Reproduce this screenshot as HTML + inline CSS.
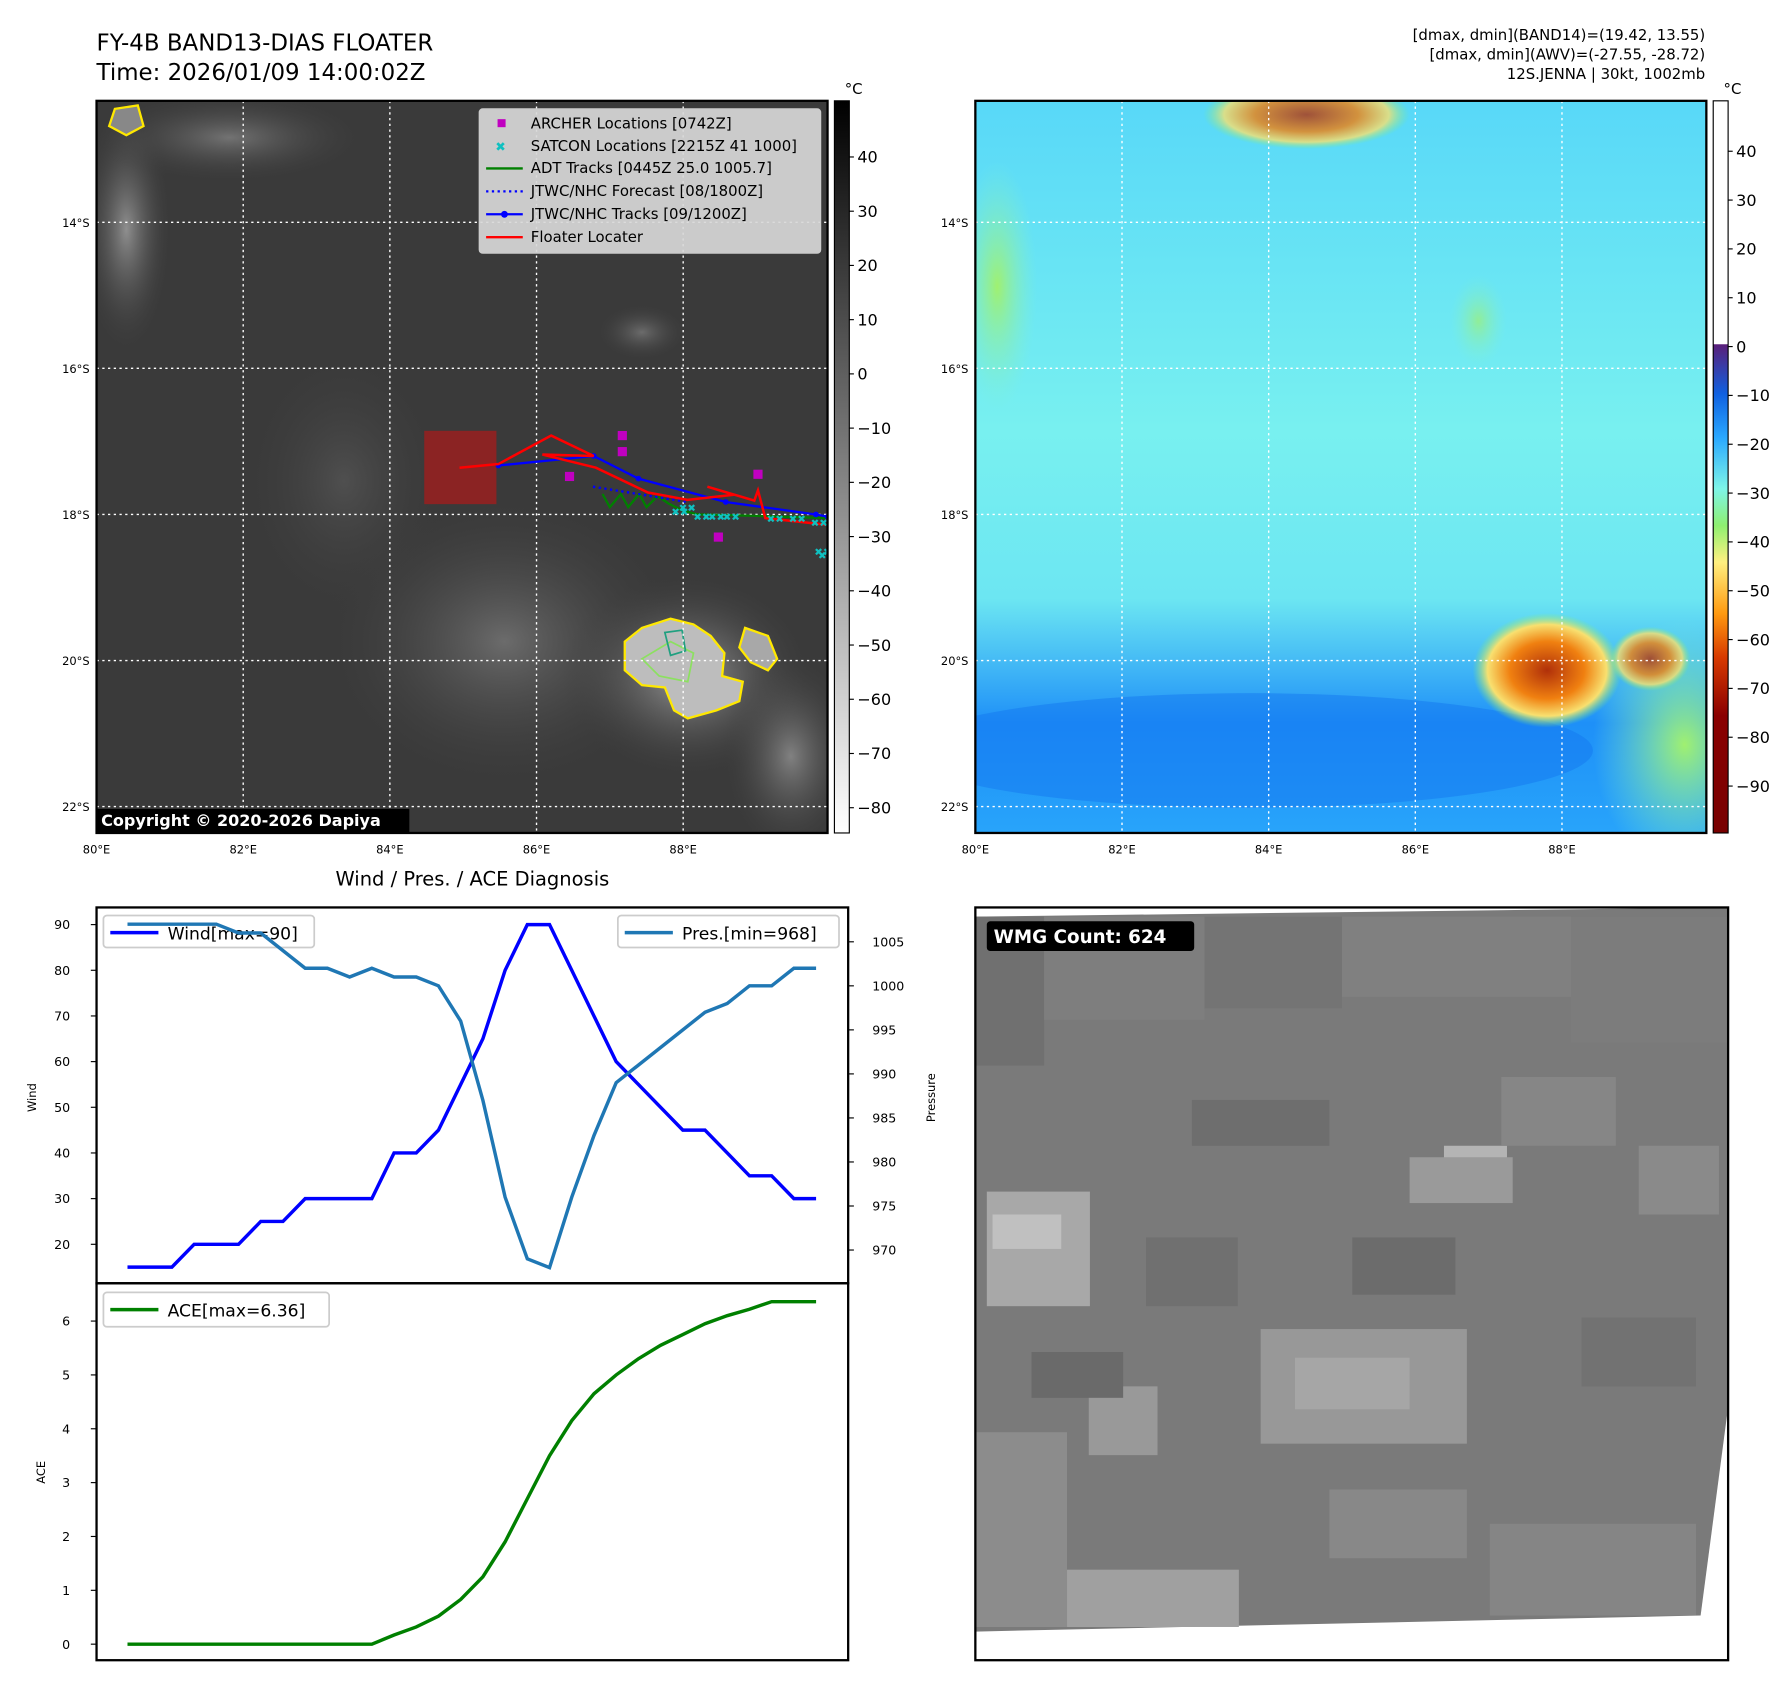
<!DOCTYPE html>
<html><head><meta charset="utf-8">
<style>
html,body{margin:0;padding:0;background:#fff;}
svg{display:block;font-family:"DejaVu Sans","Liberation Sans",sans-serif;}
</style></head>
<body>
<svg id="root" width="1788" height="1690" viewBox="0 0 1560 1475" xmlns="http://www.w3.org/2000/svg">
<defs>
<linearGradient id="cb1" x1="0" y1="0" x2="0" y2="1">
<stop offset="0" stop-color="#000"/><stop offset="1" stop-color="#fff"/></linearGradient>
<linearGradient id="cb2" x1="0" y1="0" x2="0" y2="1">
<stop offset="0" stop-color="#fff"/><stop offset="0.332" stop-color="#fff"/>
<stop offset="0.333" stop-color="#5a1f7a"/><stop offset="0.40" stop-color="#1060e0"/>
<stop offset="0.46" stop-color="#2aa8ff"/><stop offset="0.53" stop-color="#7ef5e8"/>
<stop offset="0.58" stop-color="#8ef070"/><stop offset="0.63" stop-color="#fff080"/>
<stop offset="0.70" stop-color="#ff9a10"/><stop offset="0.76" stop-color="#d83a00"/>
<stop offset="0.84" stop-color="#8a0000"/><stop offset="1" stop-color="#780000"/></linearGradient>
<linearGradient id="bgR" x1="0" y1="0" x2="0" y2="1">
<stop offset="0" stop-color="#58d8f8"/><stop offset="0.45" stop-color="#78f0f0"/>
<stop offset="0.68" stop-color="#6ce6f2"/><stop offset="0.85" stop-color="#1e90f8"/><stop offset="1" stop-color="#28a4fa"/></linearGradient>
<radialGradient id="cloudL"><stop offset="0" stop-color="#c8c8c8"/><stop offset="1" stop-color="#3a3a3a" stop-opacity="0"/></radialGradient>
<radialGradient id="storm"><stop offset="0" stop-color="#b0300a"/><stop offset="0.5" stop-color="#f08010"/><stop offset="0.8" stop-color="#f8e070"/><stop offset="1" stop-color="#80f070" stop-opacity="0"/></radialGradient>
<radialGradient id="grn"><stop offset="0" stop-color="#a0f070"/><stop offset="1" stop-color="#80f0d0" stop-opacity="0"/></radialGradient>
<clipPath id="clipL"><rect x="84" y="88" width="638" height="639"/></clipPath>
<clipPath id="clipR"><rect x="851" y="88" width="638" height="639"/></clipPath>
</defs>

<text x="84" y="44" font-size="20">FY-4B BAND13-DIAS FLOATER</text>
<text x="84" y="70" font-size="20">Time: 2026/01/09 14:00:02Z</text>
<g font-size="13" text-anchor="end">
<text x="1488" y="35">[dmax, dmin](BAND14)=(19.42, 13.55)</text>
<text x="1488" y="52">[dmax, dmin](AWV)=(-27.55, -28.72)</text>
<text x="1488" y="69">12S.JENNA | 30kt, 1002mb</text>
</g>

<!-- LEFT MAP -->
<g clip-path="url(#clipL)">
<rect x="84" y="88" width="638" height="639" fill="#3a3a3a"/>
<ellipse cx="110" cy="200" rx="40" ry="110" fill="url(#cloudL)" opacity="0.6"/>
<ellipse cx="200" cy="120" rx="120" ry="40" fill="url(#cloudL)" opacity="0.4"/>
<ellipse cx="440" cy="560" rx="160" ry="130" fill="url(#cloudL)" opacity="0.35"/>
<ellipse cx="600" cy="590" rx="110" ry="90" fill="url(#cloudL)" opacity="0.7"/>
<ellipse cx="690" cy="660" rx="60" ry="90" fill="url(#cloudL)" opacity="0.5"/>
<ellipse cx="560" cy="290" rx="40" ry="25" fill="url(#cloudL)" opacity="0.35"/>
<ellipse cx="300" cy="420" rx="90" ry="120" fill="url(#cloudL)" opacity="0.15"/>
<path d="M545,560 L560,548 L585,540 L605,545 L620,555 L632,570 L630,590 L648,595 L645,612 L625,620 L600,627 L588,620 L580,600 L560,598 L545,585 Z" fill="#bdbdbd" stroke="#ffe800" stroke-width="2"/>
<path d="M650,548 L670,555 L678,575 L670,585 L655,578 L645,565 Z" fill="#a8a8a8" stroke="#ffe800" stroke-width="2"/>
<path d="M560,575 L585,560 L605,570 L600,595 L575,590 Z" fill="none" stroke="#8ce060" stroke-width="1.5"/>
<path d="M580,552 L595,550 L598,568 L585,572 Z" fill="none" stroke="#20a080" stroke-width="1.5"/>
<path d="M100,95 L120,92 L125,110 L110,118 L95,110 Z" fill="#888" stroke="#ffe800" stroke-width="2"/>
<g id="grid-l" stroke="#fff" stroke-width="1.2" stroke-dasharray="2,3"></g>
<rect x="370" y="376" width="63" height="64" fill="#8b2323"/>
<g id="tracks"></g>
</g>
<rect x="84" y="88" width="638" height="639" fill="none" stroke="#000" stroke-width="2"/>
<rect x="84" y="706" width="273" height="21" fill="#000"/>
<text x="88" y="721" font-size="14" font-weight="bold" fill="#fff">Copyright © 2020-2026 Dapiya</text>
<g id="axl" font-size="10"></g>

<!-- legend -->
<g font-size="13">
<rect x="418" y="95" width="298" height="126" rx="3" fill="#d8d8d8" fill-opacity="0.92" stroke="#ccc"/>
<rect x="434" y="104" width="7" height="7" fill="#c000c0"/><text x="463" y="112">ARCHER Locations [0742Z]</text>
<text x="432" y="132" fill="#10c0c0" font-weight="bold" font-size="11">✖</text><text x="463" y="132">SATCON Locations [2215Z 41 1000]</text>
<line x1="424" y1="147" x2="456" y2="147" stroke="#008000" stroke-width="2"/><text x="463" y="151">ADT Tracks [0445Z 25.0 1005.7]</text>
<line x1="424" y1="167" x2="456" y2="167" stroke="#0000ff" stroke-width="2" stroke-dasharray="2,3"/><text x="463" y="171">JTWC/NHC Forecast [08/1800Z]</text>
<line x1="424" y1="187" x2="456" y2="187" stroke="#0000ff" stroke-width="2"/><circle cx="440" cy="187" r="3" fill="#0000ff"/><text x="463" y="191">JTWC/NHC Tracks [09/1200Z]</text>
<line x1="424" y1="207" x2="456" y2="207" stroke="#ff0000" stroke-width="2"/><text x="463" y="211">Floater Locater</text>
</g>

<!-- colorbar 1 -->
<rect x="728" y="88" width="13" height="639" fill="url(#cb1)" stroke="#000" stroke-width="1"/>
<text x="737" y="82" font-size="13">°C</text>
<g id="cb1t" font-size="14"></g>

<!-- RIGHT MAP -->
<g clip-path="url(#clipR)">
<rect x="851" y="88" width="638" height="639" fill="url(#bgR)"/>
<ellipse cx="1090" cy="655" rx="300" ry="50" fill="#1478f0" opacity="0.5"/>
<ellipse cx="870" cy="250" rx="35" ry="110" fill="url(#grn)"/>
<ellipse cx="1140" cy="100" rx="90" ry="30" fill="url(#storm)" opacity="0.8"/>
<ellipse cx="1470" cy="650" rx="80" ry="110" fill="url(#grn)"/>
<ellipse cx="1290" cy="280" rx="25" ry="40" fill="url(#grn)" opacity="0.7"/>
<ellipse cx="1350" cy="585" rx="65" ry="50" fill="url(#storm)"/>
<ellipse cx="1440" cy="575" rx="35" ry="28" fill="url(#storm)" opacity="0.8"/>
<g id="grid-r" stroke="#fff" stroke-width="1.2" stroke-dasharray="2,3"></g>
</g>
<rect x="851" y="88" width="638" height="639" fill="none" stroke="#000" stroke-width="2"/>
<g id="axr" font-size="10"></g>
<rect x="1495" y="88" width="13" height="639" fill="url(#cb2)" stroke="#000" stroke-width="1"/>
<text x="1504" y="82" font-size="13">°C</text>
<g id="cb2t" font-size="14"></g>

<!-- Wind/Pres/ACE -->
<text x="412" y="773" font-size="17" text-anchor="middle">Wind / Pres. / ACE Diagnosis</text>
<g font-size="15">
<rect x="90" y="799" width="184" height="28" rx="3" fill="#fff" fill-opacity="0.8" stroke="#ccc" stroke-width="1.5"/>
<line x1="96" y1="814" x2="138" y2="814" stroke="#0000ff" stroke-width="3"/><text x="146" y="820">Wind[max=90]</text>
</g>
<g id="windg"></g>
<g id="aceg"></g>
<rect x="84" y="792" width="656" height="328" fill="none" stroke="#000" stroke-width="2"/>
<rect x="84" y="1120" width="656" height="329" fill="none" stroke="#000" stroke-width="2"/>
<text transform="translate(31,958) rotate(-90)" font-size="10" text-anchor="middle">Wind</text>
<text transform="translate(816,958) rotate(-90)" font-size="10" text-anchor="middle">Pressure</text>
<text transform="translate(39,1285) rotate(-90)" font-size="10" text-anchor="middle">ACE</text>
<g font-size="15">
<rect x="539" y="799" width="193" height="28" rx="3" fill="#fff" fill-opacity="0.8" stroke="#ccc" stroke-width="1.5"/>
<line x1="545" y1="814" x2="587" y2="814" stroke="#1f77b4" stroke-width="3"/><text x="595" y="820">Pres.[min=968]</text>
</g>
<g font-size="15">
<rect x="90" y="1128" width="197" height="30" rx="3" fill="#fff" fill-opacity="0.8" stroke="#ccc" stroke-width="1.5"/>
<line x1="96" y1="1143" x2="138" y2="1143" stroke="#008000" stroke-width="3"/><text x="146" y="1149">ACE[max=6.36]</text>
</g>

<!-- WMG -->
<g id="wmg">
<rect x="851" y="792" width="657" height="657" fill="#fff"/>
<polygon points="851,800 1508,792 1508,1228 1484,1410 851,1424" fill="#7a7a7a"/>
<g id="wmgblocks"></g>
<rect x="851" y="792" width="657" height="657" fill="none" stroke="#000" stroke-width="2"/>
<rect x="861" y="804" width="181" height="26" rx="3" fill="#000"/>
<text x="867" y="823" font-size="16" font-weight="bold" fill="#fff">WMG Count: 624</text>
</g>
</svg>
<script>
const NS='http://www.w3.org/2000/svg';
function mk(tag,attrs,parent,txt){const e=document.createElementNS(NS,tag);for(const k in attrs)e.setAttribute(k,attrs[k]);if(txt!==undefined)e.textContent=txt;parent.appendChild(e);return e;}
const $=id=>document.getElementById(id);

// ---- map axes ----
const lonTicks=[80,82,84,86,88];
const latTicks=[14,16,18,20,22];
function lx(lon,x0){return x0+(lon-80)*64;}
function ly(lat){return 194+(lat-14)*63.75;}
[[84,'grid-l','axl'],[851,'grid-r','axr']].forEach(([x0,g,a])=>{
  lonTicks.forEach(l=>{const x=lx(l,x0);
    const ln=mk('line',{x1:x,y1:88,x2:x,y2:727},$(g));
    
    
    const t=mk('text',{x:x,y:745,'text-anchor':'middle'},$(a),l+'°E');
    
    });
  latTicks.forEach(l=>{const y=ly(l);
    const ln=mk('line',{x1:x0,y1:y,x2:x0+638,y2:y},$(g));
    
    
    const t=mk('text',{x:x0-6,y:y+4,'text-anchor':'end'},$(a),l+'°S');
    
    });
});

// ---- colorbars ----
const cb1Ticks=[40,30,20,10,0,-10,-20,-30,-40,-50,-60,-70,-80];
const cb2Ticks=[40,30,20,10,0,-10,-20,-30,-40,-50,-60,-70,-80,-90];
cb1Ticks.forEach(v=>{const y=137+(40-v)*4.733;
  mk('line',{x1:741,y1:y,x2:745,y2:y,stroke:'#000'},$('cb1t'));
  const t=mk('text',{x:748,y:y+5},$('cb1t'),v<0?'\u2212'+(-v):String(v));
  
  });
cb2Ticks.forEach(v=>{const y=132+(40-v)*4.262;
  mk('line',{x1:1508,y1:y,x2:1512,y2:y,stroke:'#000'},$('cb2t'));
  const t=mk('text',{x:1515,y:y+5},$('cb2t'),v<0?'\u2212'+(-v):String(v));
  
  });

// ---- tracks (lon, lat S) ----
const floaterLon=[84.95,85.48,86.2,86.78,86.08,86.81,87.52,88.06,88.69,88.33,88.97,89.02,89.12,89.94];
const floaterLat=[17.36,17.31,16.92,17.2,17.18,17.36,17.7,17.8,17.73,17.62,17.81,17.67,18.05,18.14];
const jtwcLon=[85.48,86.78,87.39,88.58,89.81,89.97];
const jtwcLat=[17.33,17.2,17.51,17.83,18.0,18.03];
const fcstLon=[86.77,88.06];
const fcstLat=[17.62,17.83];
const adtLon=[86.9,87.0,87.15,87.25,87.4,87.5,87.65,87.8,88.0,88.2,89.0,89.97];
const adtLat=[17.72,17.9,17.72,17.9,17.72,17.9,17.75,17.85,17.95,18.0,18.02,18.05];
const archerLon=[87.17,87.17,86.45,89.02,88.48];
const archerLat=[16.92,17.14,17.48,17.45,18.31];
const satconLon=[87.9,88.0,88.2,88.4,88.6,89.2,89.5,89.8,89.85,89.9];
const satconLat=[17.95,17.9,18.02,18.02,18.02,18.05,18.05,18.1,18.5,18.55];
const T=$('tracks');
function pts(lo,la){return lo.map((l,i)=>lx(l,84)+','+ly(la[i])).join(' ');}
let e;
e=mk('polyline',{points:pts(adtLon,adtLat),fill:'none',stroke:'#008000','stroke-width':2},T);


e=mk('polyline',{points:pts(fcstLon,fcstLat),fill:'none',stroke:'#0000ff','stroke-width':2,'stroke-dasharray':'2,3'},T);


e=mk('polyline',{points:pts(jtwcLon,jtwcLat),fill:'none',stroke:'#0000ff','stroke-width':2},T);


jtwcLon.forEach((l,i)=>{const c=mk('circle',{cx:lx(l,84),cy:ly(jtwcLat[i]),r:2.5,fill:'#0000ff'},T);
  
  });
e=mk('polyline',{points:pts(floaterLon,floaterLat),fill:'none',stroke:'#ff0000','stroke-width':2.2},T);


archerLon.forEach((l,i)=>{const r=mk('rect',{x:lx(l,84)-4,y:ly(archerLat[i])-4,width:8,height:8,fill:'#c000c0'},T);
  
  });
satconLon.forEach((l,i)=>{const t=mk('text',{x:lx(l,84)-4,y:ly(satconLat[i])+4,fill:'#10c0c0','font-size':9,'font-weight':'bold'},T,'✖✖');
  
  });

// ---- Wind / Pressure / ACE ----
const windVals=[15,15,15,20,20,20,25,25,30,30,30,30,40,40,45,55,65,80,90,90,80,70,60,55,50,45,45,40,35,35,30,30];
const presVals=[1007,1007,1007,1007,1007,1006,1006,1004,1002,1002,1001,1002,1001,1001,1000,996,987,976,969,968,976,983,989,991,993,995,997,998,1000,1000,1002,1002];
const aceVals=[0,0,0,0,0,0,0,0,0,0,0,0,0.17,0.32,0.52,0.83,1.25,1.9,2.7,3.5,4.15,4.65,5.0,5.3,5.55,5.75,5.95,6.1,6.22,6.36,6.36,6.36];
const windTicks=[20,30,40,50,60,70,80,90];
const presTicks=[970,975,980,985,990,995,1000,1005];
const aceTicks=[0,1,2,3,4,5,6];
const N=windVals.length;
const xs=i=>111+i*(712-111)/(N-1);
const yW=v=>1086-(v-20)*3.986;
const yP=v=>1091-(v-970)*7.686;
const yA=v=>1435-v*47;
const W=$('windg'),A=$('aceg');
windTicks.forEach(v=>{const y=yW(v);mk('line',{x1:79,y1:y,x2:84,y2:y,stroke:'#000'},W);
  const t=mk('text',{x:61,y:y+4,'font-size':11,'text-anchor':'end'},W,String(v));
  
  });
presTicks.forEach(v=>{const y=yP(v);mk('line',{x1:740,y1:y,x2:745,y2:y,stroke:'#000'},W);
  const t=mk('text',{x:761,y:y+4,'font-size':11},W,String(v));
  
  });
aceTicks.forEach(v=>{const y=yA(v);mk('line',{x1:79,y1:y,x2:84,y2:y,stroke:'#000'},A);
  const t=mk('text',{x:61,y:y+4,'font-size':11,'text-anchor':'end'},A,String(v));
  
  });
e=mk('polyline',{points:windVals.map((v,i)=>xs(i)+','+yW(v)).join(' '),fill:'none',stroke:'#0000ff','stroke-width':3},W);


e=mk('polyline',{points:presVals.map((v,i)=>xs(i)+','+yP(v)).join(' '),fill:'none',stroke:'#1f77b4','stroke-width':3},W);


e=mk('polyline',{points:aceVals.map((v,i)=>xs(i)+','+yA(v)).join(' '),fill:'none',stroke:'#008000','stroke-width':3},A);



// ---- WMG blocks (texture) ----
const blk=[[851,800,60,130,'#707070'],[911,800,140,90,'#7e7e7e'],[1051,800,120,80,'#747474'],[1171,800,200,70,'#808080'],[1371,800,137,110,'#7c7c7c'],
[861,1040,90,100,'#a8a8a8'],[866,1060,60,30,'#c0c0c0'],[1260,1000,55,25,'#b4b4b4'],[1230,1010,90,40,'#9a9a9a'],[1100,1160,180,100,'#989898'],
[1130,1185,100,45,'#a6a6a6'],[931,1370,150,50,'#a0a0a0'],[851,1250,80,170,'#8c8c8c'],[950,1210,60,60,'#999'],[1040,960,120,40,'#6e6e6e'],
[1160,1300,120,60,'#888'],[1300,1330,180,80,'#858585'],[900,1180,80,40,'#6a6a6a'],[1310,940,100,60,'#868686'],[1430,1000,70,60,'#8a8a8a'],
[1000,1080,80,60,'#707070'],[1180,1080,90,50,'#6c6c6c'],[1380,1150,100,60,'#727272']];
blk.forEach(b=>{const r=mk('rect',{x:b[0],y:b[1],width:b[2],height:b[3],fill:b[4]},$('wmgblocks'));
  
  });
</script>
</body></html>
